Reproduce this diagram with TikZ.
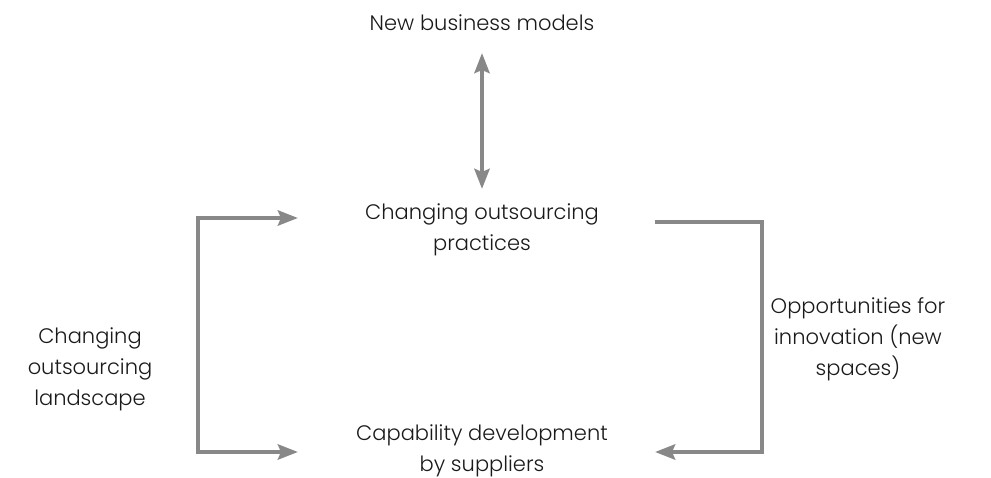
\documentclass[tikz,border=0pt]{standalone}
\usepackage{fontspec}
\setmainfont{Poppins}[UprightFont={* Light}]
\usepackage{xcolor}
\usetikzlibrary{arrows.meta}
\definecolor{linegray}{HTML}{888888}
\definecolor{txtgray}{HTML}{1A1A1A}

\begin{document}
\begin{tikzpicture}[x=1pt,y=-1pt,font=\fontsize{21}{31}\selectfont,
	lbl/.style={align=center,text=txtgray,inner sep=0pt},
	flow/.style={draw=linegray,line width=4.5pt,>={Stealth[length=20pt,width=15pt,inset=3pt]}}]
		\useasboundingbox (0,0) rectangle (991,478);
		\node[lbl] (models) at (482,23) {New business models};
		\node[lbl] (practices) at (482,230) {Changing outsourcing\\practices};
		\node[lbl] (capability) at (482,451) {Capability development\\by suppliers};
		\node[lbl] (landscape) at (90,369) {Changing\\outsourcing\\landscape};
		\node[lbl] (innovation) at (858,339) {Opportunities for\\innovation (new\\spaces)};
		%
		\coordinate (mt) at (482,53);
		\coordinate (mb) at (482,189);
		\coordinate (lt) at (298,218);
		\coordinate (ltc) at (198,218);
		\coordinate (lbc) at (198,452);
		\coordinate (lb) at (298,452);
		\coordinate (rt) at (655,222);
		\coordinate (rtc) at (762,222);
		\coordinate (rbc) at (762,452);
		\coordinate (rb) at (655,452);
		%
		% vertical arrow
		\draw[flow,<->] (mt) -- (mb);
		% brackets
		\draw[flow,<->,line join=miter] (lt) -- (ltc) -- (lbc) -- (lb);
		\draw[flow,->,line join=miter] (rt) -- (rtc) -- (rbc) -- (rb);
\end{tikzpicture}
\end{document}
